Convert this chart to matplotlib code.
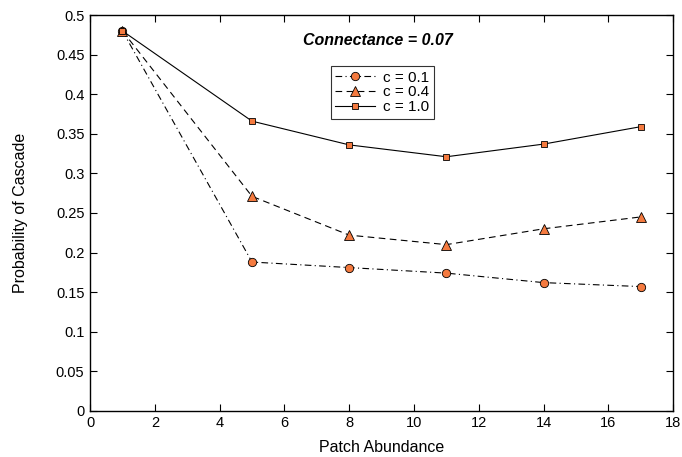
import matplotlib
matplotlib.use("Agg")
import matplotlib.pyplot as plt

plt.rcParams['font.family'] = ['Liberation Sans', 'DejaVu Sans']

patches = [1, 5, 8, 11, 14, 17]
p_c01 = [0.480, 0.188, 0.181, 0.174, 0.162, 0.157]
p_c04 = [0.480, 0.271, 0.222, 0.210, 0.230, 0.245]
p_c10 = [0.480, 0.366, 0.336, 0.321, 0.337, 0.359]
labels = ["c = 0.1", "c = 0.4", "c = 1.0"]

orange = '#f47a3f'

fig = plt.figure(figsize=(6.82, 4.57), dpi=100)
ax = fig.add_axes([0.132, 0.101, 0.855, 0.866])

ax.plot(patches, p_c01, color='black', lw=0.8, ls=(0, (6, 3, 1, 3)), marker='o',
        ms=6, mfc=orange, mec='black', mew=0.6, label=labels[0])
ax.plot(patches, p_c04, color='black', lw=0.8, ls=(0, (6, 4)), marker='^',
        ms=7, mfc=orange, mec='black', mew=0.6, label=labels[1])
ax.plot(patches, p_c10, color='black', lw=0.8, ls='-', marker='s',
        ms=5, mfc=orange, mec='black', mew=0.6, label=labels[2])

ax.set_xlim(0, 18)
ax.set_ylim(0, 0.5)
ax.set_xticks(range(0, 19, 2))
ax.set_yticks([i * 0.05 for i in range(11)])
ax.set_yticklabels(['0', '0.05', '0.1', '0.15', '0.2', '0.25', '0.3', '0.35',
                    '0.4', '0.45', '0.5'])
ax.tick_params(direction='in', top=True, right=True, labelsize=10.5, length=5,
               pad=4)
for s in ax.spines.values():
    s.set_linewidth(1.0)

ax.set_xlabel("Patch Abundance", fontsize=11.5, labelpad=7)
ax.set_ylabel("Probability of Cascade", fontsize=11.5, labelpad=20)

ax.text(0.494, 0.937, "Connectance = 0.07", transform=ax.transAxes, ha='center',
        va='center', fontsize=11.5, fontweight='bold', fontstyle='italic')

leg = ax.legend(loc='upper left', bbox_to_anchor=(0.413, 0.871), fontsize=11,
                frameon=True, fancybox=False, edgecolor='black', borderpad=0.3,
                labelspacing=0.05, handlelength=2.6, handletextpad=0.5,
                borderaxespad=0)
leg.get_frame().set_linewidth(0.8)

fig.savefig("out.png", dpi=100)
